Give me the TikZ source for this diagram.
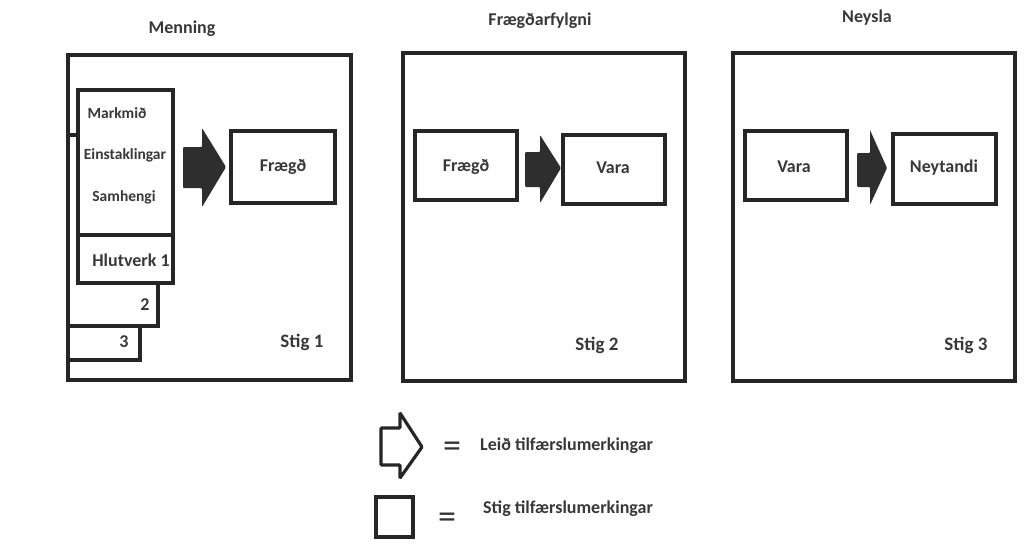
\documentclass[tikz,border=0pt]{standalone}
\usepackage{fontspec}
\setmainfont{Carlito}
\begin{document}
\begin{tikzpicture}[x=1pt,y=-1pt,
  ln/.style={draw=black!85,line width=3.2pt},
  sml/.style={text=black!78,font=\bfseries\fontsize{15.5}{18}\selectfont,inner sep=0pt},
  lbl/.style={text=black!78,font=\bfseries\fontsize{18}{21}\selectfont,inner sep=0pt},
  stg/.style={text=black!78,font=\bfseries\fontsize{19}{22}\selectfont,inner sep=0pt},
  ttl/.style={text=black!78,font=\bfseries\fontsize{18}{21}\selectfont,inner sep=0pt},
  blk/.style={fill=black!82,rounded corners=1pt},
  eq/.style={text=black!80,font=\fontsize{36}{38}\selectfont,inner sep=0pt}]
\useasboundingbox (0,0) rectangle (1028,544);
% titles
\node[ttl] (t1) at (182,29) {Menning};
\node[ttl] (t2) at (540,21) {Frægðarfylgni};
\node[ttl] (t3) at (867,18) {Neysla};
% stage 1
\draw[ln] (68,55) rectangle (351,380);
\draw[ln,fill=white] (68,300) rectangle (140,360);
\draw[ln,fill=white] (68,135) rectangle (158,326);
\draw[ln,fill=white] (78,90) rectangle (173,283);
\draw[ln] (78,235) -- (173,235);
\node[sml] (m1) at (117,113) {Markmið};
\node[sml] (m2) at (125,155) {Einstaklingar};
\node[sml] (m3) at (124,197) {Samhengi};
\node[lbl] (h1) at (131,260) {Hlutverk 1};
\node[lbl] (h2) at (145,305) {2};
\node[lbl] (h3) at (124,342) {3};
\fill[blk] (183,147) -- (202,147) -- (202,128) -- (226,167) -- (202,207) -- (202,188) -- (183,188) -- cycle;
\draw[ln] (231,131) rectangle (335,203);
\node[lbl] (f1) at (283,167) {Frægð};
\node[stg] (s1) at (302,342) {Stig 1};
% stage 2
\draw[ln] (403,53) rectangle (685,381);
\draw[ln] (415,131) rectangle (517,200);
\node[lbl] (f2) at (466,167) {Frægð};
\fill[blk] (525,152) -- (540,152) -- (540,135) -- (561,168) -- (540,203) -- (540,187) -- (525,187) -- cycle;
\draw[ln] (563,135) rectangle (665,204);
\node[lbl] (v2) at (613,168) {Vara};
\node[stg] (s2) at (597,345) {Stig 2};
% stage 3
\draw[ln] (733,53) rectangle (1015,381);
\draw[ln] (745,131) rectangle (847,200);
\node[lbl] (v3) at (794,167) {Vara};
\fill[blk] (857,153) -- (870,153) -- (870,130) -- (887,168) -- (870,205) -- (870,187) -- (857,187) -- cycle;
\draw[ln] (893,134) rectangle (996,204);
\node[lbl] (n3) at (944,168) {Neytandi};
\node[stg] (s3) at (966,345) {Stig 3};
% legend
\draw[ln,rounded corners=1pt] (381,428) -- (400,428) -- (400,413) -- (422,447) -- (400,478) -- (400,465) -- (381,465) -- cycle;
\node[eq] (e1) at (452,450) {=};
\node[lbl,anchor=west] (l1) at (480,446) {Leið tilfærslumerkingar};
\draw[ln] (376,497) rectangle (413,537);
\node[eq] (e2) at (447,521) {=};
\node[lbl,anchor=west] (l2) at (483,509) {Stig tilfærslumerkingar};
\end{tikzpicture}
\end{document}
